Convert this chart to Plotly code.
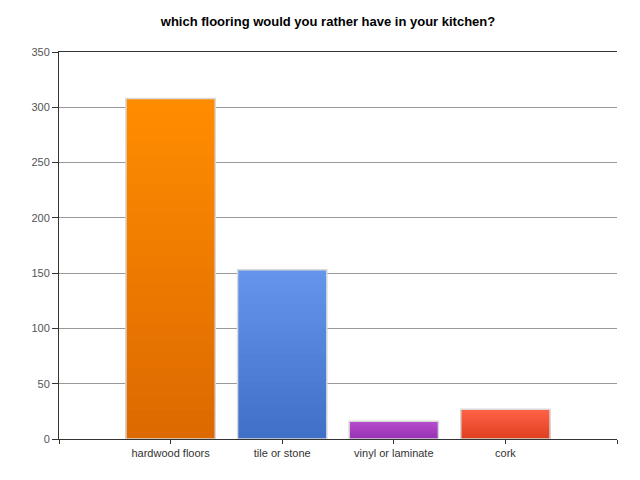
import plotly.graph_objects as go

categories = ["hardwood floors", "tile or stone", "vinyl or laminate", "cork"]
votes = [308, 153, 16, 27]
y_ticks = [0, 50, 100, 150, 200, 250, 300, 350]
title_text = "which flooring would you rather have in your kitchen?"

# top colour / bottom colour of each bar's vertical gradient
top_colors = [(255, 140, 0), (100, 149, 237), (182, 78, 204), (255, 99, 71)]
bottom_colors = [(220, 106, 0), (64, 112, 200), (150, 50, 180), (222, 64, 32)]

x_pos = list(range(len(categories)))
fig = go.Figure()

N = 24  # gradient layers (styling only)
for k in range(N):
    frac = (N - k) / N
    t = k / (N - 1)
    cols = []
    for tc, bc in zip(top_colors, bottom_colors):
        c = tuple(round(a + (b - a) * t) for a, b in zip(tc, bc))
        cols.append("rgb(%d,%d,%d)" % c)
    fig.add_trace(go.Bar(
        x=x_pos, y=[v * frac for v in votes], width=0.8,
        marker=dict(color=cols, line=dict(width=0)),
        hoverinfo="skip", showlegend=False,
    ))

# outline
fig.add_trace(go.Bar(
    x=x_pos, y=votes, width=0.8,
    marker=dict(color="rgba(0,0,0,0)", line=dict(color="#d9d9d9", width=1.5)),
    showlegend=False, name="votes",
))

fig.update_layout(
    width=640, height=480,
    barmode="overlay",
    paper_bgcolor="white", plot_bgcolor="white",
    margin=dict(l=51, r=31, t=44, b=49),
    font=dict(family="Liberation Sans, Arial, sans-serif", size=11, color="#333"),
    title=dict(text="<b>" + title_text + "</b>", x=0.5, xanchor="center",
               y=0.972, yanchor="middle",
               font=dict(size=13, color="#000")),
)
fig.update_xaxes(
    range=[-1, len(categories)],
    tickvals=[-1] + x_pos + [len(categories)],
    ticktext=[""] + categories + [""],
    showline=True, linecolor="#333", linewidth=1, mirror=True,
    ticks="outside", ticklen=4, tickcolor="#333",
    showgrid=False, zeroline=False,
    tickfont=dict(size=11, color="#333"),
)
fig.update_yaxes(
    range=[0, 350], tickvals=y_ticks,
    showline=True, linecolor="#333", linewidth=1,
    ticks="outside", ticklen=6, tickcolor="#333",
    showgrid=True, gridcolor="#999", gridwidth=1,
    zeroline=False,
    tickfont=dict(size=11, color="#555"),
)

fig.write_html("out.html")
